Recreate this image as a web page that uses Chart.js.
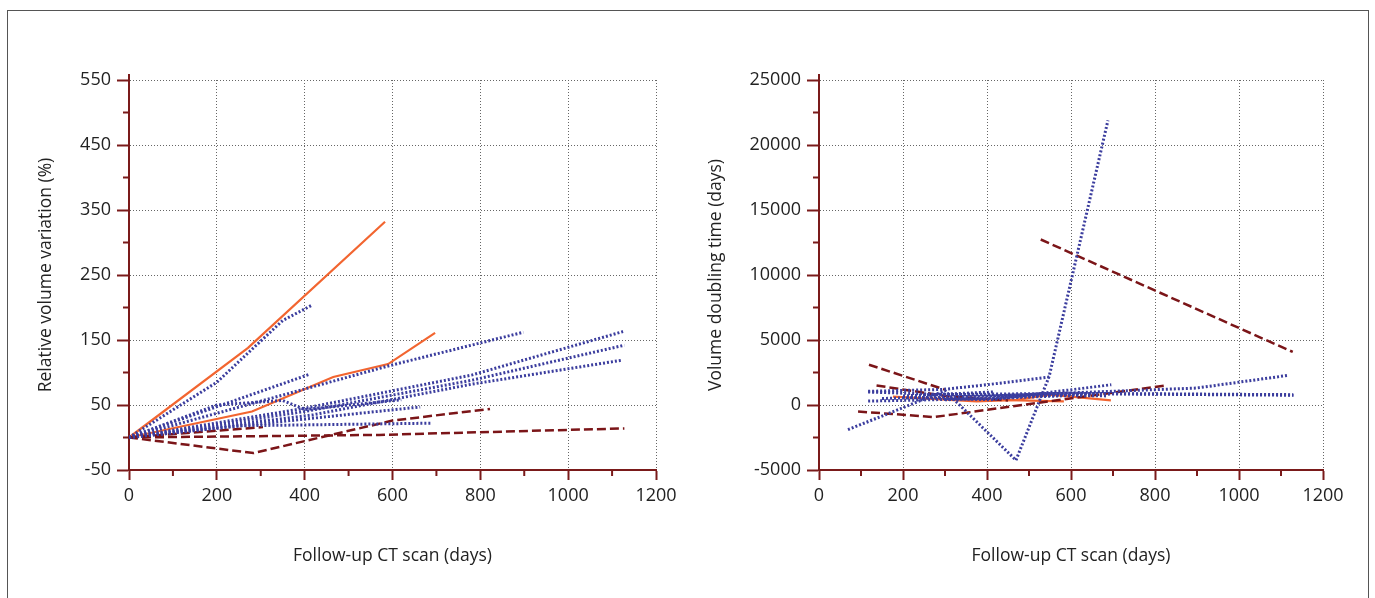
<!DOCTYPE html>
<html>
<head>
    <meta charset="UTF-8">
    <title>Volume variation and doubling time</title>
    <script src="https://cdn.jsdelivr.net/npm/chart.js"></script>
    <style>
        body { margin: 0; background: #fff; }
        .frame {
            position: absolute; left: 7px; top: 10px;
            width: 1360px; height: 600px;
            border: 1px solid #555;
        }
        .chart-box { position: absolute; top: 0; height: 598px; }
        #leftBox { left: 0; width: 690px; }
        #rightBox { left: 690px; width: 685px; }
    </style>
</head>
<body>
    <div class="frame"></div>
    <div class="chart-box" id="leftBox"><canvas id="volumeChart"></canvas></div>
    <div class="chart-box" id="rightBox"><canvas id="doublingChart"></canvas></div>

    <script>
        // [days, relative volume variation %]
        const volOrange = [
            [[0,0],[271,138],[583,332]],
            [[0,0],[280,40],[465,93],[590,113],[697,161]]
        ];
        const volBlue = [
            [[0,0],[200,85],[350,180],[415,203]],
            [[0,0],[410,97]],
            [[0,0],[590,110],[898,162]],
            [[0,0],[400,45],[780,96],[1125,163]],
            [[0,0],[400,40],[780,88],[1128,142]],
            [[0,0],[420,35],[780,82],[1123,119]],
            [[0,0],[663,47]],
            [[0,0],[250,18],[687,22]],
            [[0,0],[200,50],[350,57],[400,43],[620,58]]
        ];
        const volRed = [
            [[0,0],[305,16]],
            [[0,0],[283,-24],[600,26],[822,44]],
            [[0,0],[570,4],[1128,14]]
        ];

        // [days, volume doubling time in days]
        const vdtOrange = [
            [[271,500],[583,280]],
            [[176,650],[375,280],[470,400],[550,800],[695,350]]
        ];
        const vdtBlue = [
            [[69,-1900],[300,1100],[469,-4250],[548,2200],[688,21900]],
            [[117,1050],[296,1200],[400,1560],[548,2150]],
            [[117,1000],[303,800],[600,900],[1129,795]],
            [[117,300],[410,500],[700,850],[1130,750]],
            [[150,500],[410,700],[898,1300],[1117,2280]],
            [[200,600],[410,400],[696,1560]],
            [[200,700],[415,1000]],
            [[300,400],[663,900]],
            [[250,800],[687,700]]
        ];
        const vdtRed = [
            [[528,12730],[1128,4080]],
            [[119,3100],[300,1180]],
            [[137,1500],[300,700],[450,350]],
            [[93,-500],[274,-930],[823,1490]]
        ];

        const AXIS = '#7a1a1a';
        const ORANGE = '#f26530';
        const BLUE = '#3b3d9e';
        const RED = '#7b1518';
        const FONT = "'Open Sans', sans-serif";

        function makeSets(orange, blue, red) {
            const sets = [];
            const pts = arr => arr.map(p => ({x: p[0], y: p[1]}));
            blue.forEach(s => sets.push({data: pts(s), borderColor: BLUE, borderWidth: 3, borderDash: [2, 2]}));
            red.forEach(s => sets.push({data: pts(s), borderColor: RED, borderWidth: 2.5, borderDash: [9, 4]}));
            orange.forEach(s => sets.push({data: pts(s), borderColor: ORANGE, borderWidth: 2.2}));
            sets.forEach(s => { s.pointRadius = 0; s.tension = 0; s.fill = false; });
            return sets;
        }

        // minor ticks + small axis overhang
        const minorTicks = {
            id: 'minorTicks',
            afterDraw(chart, args, opts) {
                const {ctx, chartArea} = chart;
                const x = chart.scales.x, y = chart.scales.y;
                ctx.save();
                ctx.strokeStyle = AXIS;
                ctx.lineWidth = 2;
                ctx.beginPath();
                for (let v = y.min + opts.yStep / 2; v < y.max; v += opts.yStep) {
                    const py = y.getPixelForValue(v);
                    ctx.moveTo(chartArea.left - 6, py);
                    ctx.lineTo(chartArea.left, py);
                }
                for (let v = x.min + opts.xStep / 2; v < x.max; v += opts.xStep) {
                    const px = x.getPixelForValue(v);
                    ctx.moveTo(px, chartArea.bottom);
                    ctx.lineTo(px, chartArea.bottom + 6);
                }
                ctx.moveTo(chartArea.left, chartArea.top);
                ctx.lineTo(chartArea.left, chartArea.top - 6);
                ctx.stroke();
                ctx.restore();
            }
        };

        function makeChart(id, sets, yMin, yMax, yStep, yTitle, padRight, yTitlePad) {
            return new Chart(document.getElementById(id), {
                type: 'line',
                data: {datasets: sets},
                plugins: [minorTicks],
                options: {
                    responsive: true,
                    maintainAspectRatio: false,
                    animation: false,
                    layout: {padding: {left: 0, top: 80, right: padRight, bottom: 0}},
                    plugins: {
                        legend: {display: false},
                        tooltip: {enabled: false},
                        minorTicks: {xStep: 200, yStep: yStep}
                    },
                    scales: {
                        x: {
                            type: 'linear',
                            min: 0, max: 1200,
                            afterFit: s => { s.height = 128; },
                            ticks: {stepSize: 200, color: '#222', padding: 5, font: {family: FONT, size: 18},
                                    callback: v => String(v)},
                            grid: {color: '#666', tickColor: AXIS, tickWidth: 2, tickLength: 10},
                            border: {display: true, color: AXIS, width: 2, dash: [1, 2]},
                            title: {display: true, text: 'Follow-up CT scan (days)', color: '#222',
                                    font: {family: FONT, size: 17.5}, padding: {bottom: 31}}
                        },
                        y: {
                            min: yMin, max: yMax,
                            afterFit: s => { s.width = 129; },
                            ticks: {stepSize: yStep, color: '#222', padding: 6, font: {family: FONT, size: 18},
                                    callback: v => String(v)},
                            grid: {color: '#666', tickColor: AXIS, tickWidth: 2, tickLength: 12},
                            border: {display: true, color: AXIS, width: 2, dash: [1, 2]},
                            title: {display: true, text: yTitle, color: '#222',
                                    font: {family: FONT, size: 17.5}, padding: {top: yTitlePad}}
                        }
                    }
                }
            });
        }

        makeChart('volumeChart', makeSets(volOrange, volBlue, volRed),
            -50, 550, 100, 'Relative volume variation (%)', 34, 36);
        makeChart('doublingChart', makeSets(vdtOrange, vdtBlue, vdtRed),
            -5000, 25000, 5000, 'Volume doubling time (days)', 52, 16);
    </script>
</body>
</html>
